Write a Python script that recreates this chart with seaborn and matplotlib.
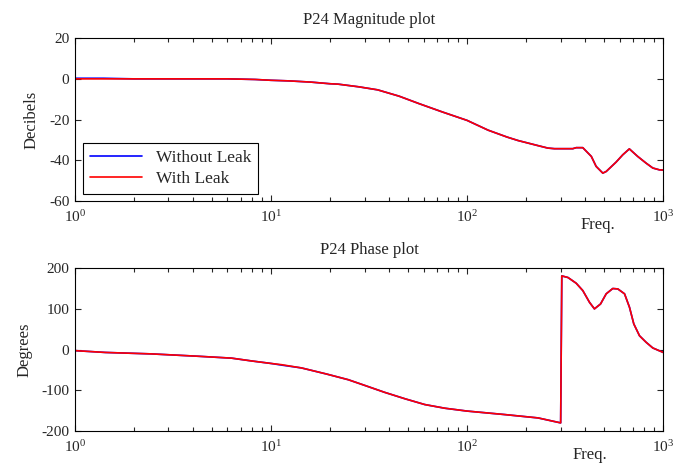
import pandas as pd
import seaborn as sns
import matplotlib
matplotlib.use("Agg")
import matplotlib.pyplot as plt

# Magnitude (dB)
mag_freq = [1, 1.4, 2, 4, 6, 8.3, 10, 12.4, 16, 20, 22, 28, 35, 45, 57, 75, 100,
            128, 160, 182, 230, 258, 279, 346, 360, 389, 430, 455, 492, 512,
            575, 622, 672, 741, 818, 885, 957, 1000]
mag_no_leak = [0.3, 0.3, 0, 0, 0, -0.3, -0.7, -1.0, -1.6, -2.4, -2.6, -3.9, -5.4,
               -8.5, -12.2, -16.3, -20.4, -25.2, -28.6, -30.3, -32.8, -34.0,
               -34.3, -34.3, -33.8, -33.8, -38.1, -43.0, -46.3, -45.5, -40.9,
               -37.3, -34.4, -38.1, -41.4, -43.8, -44.7, -44.8]
mag_leak = [0, 0, 0, 0, 0, -0.3, -0.7, -1.0, -1.6, -2.4, -2.6, -3.9, -5.4,
            -8.5, -12.2, -16.3, -20.4, -25.2, -28.6, -30.3, -32.8, -34.0,
            -34.3, -34.3, -33.8, -33.8, -38.1, -43.0, -46.3, -45.5, -40.9,
            -37.3, -34.4, -38.1, -41.4, -43.8, -44.7, -44.8]

# Phase (degrees)
ph_freq = [1, 1.43, 2.47, 4.27, 6.3, 8, 10, 11.3, 14.3, 19.2, 24.8, 30.1, 38,
           48.4, 60.9, 77, 100, 155, 230, 300, 304, 327, 360, 389, 421, 446,
           479, 512, 553, 587, 635, 673, 708, 757, 818, 885, 968, 1000]
ph_no_leak = [-2.5, -7, -10.6, -16.4, -21, -28, -34, -38, -45, -60, -74, -88,
              -105, -121, -135, -144, -151, -159.5, -167.8, -180, 181, 177, 163,
              145, 116, 100, 112, 137, 150, 149, 137, 104, 63, 34, 18, 4, -4, -7]
ph_leak = [-2.5, -7, -10.6, -16.4, -21, -28, -34, -37, -45, -60, -74, -88,
           -105, -121, -135, -144, -151, -159.5, -167.8, -180, 181, 177, 163,
           145, 116, 100, 112, 137, 150, 149, 137, 104, 63, 34, 18, 4, -4, -7]

series = ["Without Leak", "With Leak"]
colors = {"Without Leak": "#0000ff", "With Leak": "#ff0000"}


def long_form(freq, a, b):
    return pd.concat([
        pd.DataFrame({"Freq": freq, "val": a, "case": series[0]}),
        pd.DataFrame({"Freq": freq, "val": b, "case": series[1]}),
    ], ignore_index=True)


def style_axes(ax):
    ax.set_xscale("log")
    ax.set_xlim(1, 1000)
    ax.tick_params(which="both", direction="in", top=True, right=True,
                   labelsize=11, width=0.8)
    ax.tick_params(axis="x", which="major", length=4, pad=6)
    ax.tick_params(axis="y", which="major", length=4, pad=4)
    ax.tick_params(which="minor", length=3)
    for s in ax.spines.values():
        s.set_linewidth(0.8)
        s.set_color("black")


def main():
    sns.set_style("ticks")
    plt.rcParams["font.family"] = ["Liberation Serif", "DejaVu Serif"]
    plt.rcParams["mathtext.fontset"] = "custom"
    plt.rcParams["mathtext.rm"] = "Liberation Serif"
    plt.rcParams["axes.unicode_minus"] = False

    fig = plt.figure(figsize=(6.74, 4.68), dpi=100)
    ax1 = fig.add_axes([0.111, 0.5705, 0.873, 0.348])
    ax2 = fig.add_axes([0.111, 0.079, 0.873, 0.348])

    # top panel: magnitude
    df_mag = long_form(mag_freq, mag_no_leak, mag_leak)
    sns.lineplot(data=df_mag, x="Freq", y="val", hue="case", palette=colors,
                 estimator=None, linewidth=1.2, ax=ax1)
    style_axes(ax1)
    ax1.set_ylim(-60, 20)
    ax1.set_yticks([-60, -40, -20, 0, 20])
    ax1.set_ylabel("Decibels", fontsize=12, va="center")
    ax1.yaxis.set_label_coords(-0.073, 0.5)
    ax1.set_xlabel("Freq.", fontsize=12, va="center")
    ax1.xaxis.set_label_coords(0.889, -0.15)
    ax1.set_title("P24 Magnitude plot", fontsize=12, pad=10.5)
    leg = ax1.legend(loc="lower left", bbox_to_anchor=(0.0136, 0.043),
                     borderaxespad=0, fontsize=12.5, handlelength=3,
                     fancybox=False, framealpha=1, edgecolor="black",
                     borderpad=0.4, labelspacing=0.3)
    leg.get_frame().set_linewidth(0.8)

    # bottom panel: phase
    df_ph = long_form(ph_freq, ph_no_leak, ph_leak)
    sns.lineplot(data=df_ph, x="Freq", y="val", hue="case", palette=colors,
                 estimator=None, linewidth=1.2, ax=ax2, legend=False)
    style_axes(ax2)
    ax2.set_ylim(-200, 200)
    ax2.set_yticks([-200, -100, 0, 100, 200])
    ax2.set_ylabel("Degrees", fontsize=12, va="center")
    ax2.yaxis.set_label_coords(-0.085, 0.5)
    ax2.set_xlabel("Freq.", fontsize=12, va="center")
    ax2.xaxis.set_label_coords(0.876, -0.15)
    ax2.set_title("P24 Phase plot", fontsize=12, pad=10.5)

    fig.savefig("out.png", dpi=100)
    plt.close(fig)


if __name__ == "__main__":
    main()
